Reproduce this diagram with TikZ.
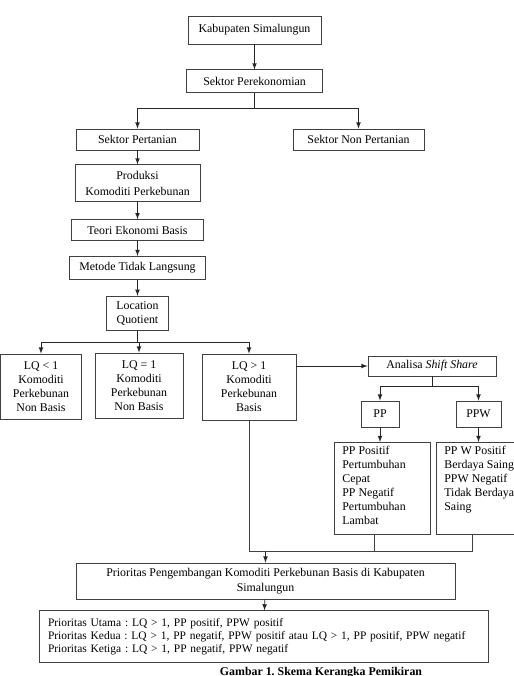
\documentclass[tikz,border=0pt]{standalone}
\usepackage{fontspec}
\setmainfont{Liberation Serif}
\usetikzlibrary{positioning,arrows,calc}
\newdimen\pxl \pxl=0.75pt
\newcommand{\isikotak}[2]{\parbox[t][84\pxl][t]{#1}{\raggedright #2}}
\frenchspacing

\begin{document}
\begin{tikzpicture}[
		x=0.75pt, y=-0.75pt,
		node distance=15\pxl and 0cm,
		font=\fontsize{8.9}{10.5}\selectfont,
		kotak/.style={draw=black!75,line width=0.6pt,align=center,inner sep=2pt},
		rincian/.style={kotak,anchor=north west,inner xsep=8\pxl,inner ysep=4\pxl},
		panah/.style={-latex,draw=black!85,line width=0.6pt},
		garis/.style={draw=black!75,line width=0.6pt}
		]
		\clip (0,0) rectangle (514,676);
		\node[kotak,minimum width=133\pxl,minimum height=28\pxl] (kab) at (254.5,30) {Kabupaten Simalungun};
		\node[kotak,minimum width=136\pxl,minimum height=23\pxl,below=25\pxl of kab] (sektor) {Sektor Perekonomian};
		\node[kotak,minimum width=123\pxl,minimum height=21\pxl] (pertanian) at (137.5,139.5) {Sektor Pertanian};
		\node[kotak,minimum width=131\pxl,minimum height=21\pxl] (nonpertanian) at (358.5,139.5) {Sektor Non Pertanian};
		\node[kotak,minimum width=125\pxl,minimum height=37\pxl,below=14\pxl of pertanian] (produksi) {Produksi\\[1.5pt]Komoditi Perkebunan};
		\node[kotak,minimum width=132\pxl,minimum height=21\pxl,below=17\pxl of produksi] (teori) {Teori Ekonomi Basis};
		\node[kotak,minimum width=136\pxl,minimum height=23\pxl,below=15\pxl of teori] (metode) {Metode Tidak Langsung};
		\node[kotak,minimum width=62\pxl,minimum height=34\pxl,below=16\pxl of metode] (lq) {Location\\Quotient};
		% hasil LQ
		\node[kotak,minimum width=81\pxl,minimum height=65\pxl] (lqkecil) at (41,386.5) {LQ < 1\\Komoditi\\Perkebunan\\Non Basis};
		\node[kotak,minimum width=88\pxl,minimum height=65\pxl] (lqsama) at (139,385.5) {LQ = 1\\Komoditi\\Perkebunan\\Non Basis};
		\node[kotak,minimum width=94\pxl,minimum height=66\pxl] (lqbesar) at (249,387) {LQ > 1\\Komoditi\\Perkebunan\\Basis};
		% shift share
		\node[kotak,minimum width=128\pxl,minimum height=20\pxl] (analisa) at (432,366) {Analisa \textit{Shift Share}};
		\node[kotak,minimum width=38\pxl,minimum height=26\pxl] (pp) at (380,414) {PP};
		\node[kotak,minimum width=45\pxl,minimum height=26\pxl] (ppw) at (478.5,414) {PPW};
		\node[rincian] (ppdetail) at (334,442) {\isikotak{80\pxl}{PP Positif\\Pertumbuhan\\Cepat\\PP Negatif\\Pertumbuhan\\Lambat}};
		\node[rincian] (ppwdetail) at (436,442) {\isikotak{92\pxl}{PP W Positif\\Berdaya Saing\\PPW Negatif\\Tidak Berdaya\\Saing}};
		% prioritas
		\node[kotak,minimum width=379\pxl,minimum height=36\pxl] (prioritas) at (265.5,581) {Prioritas Pengembangan Komoditi Perkebunan Basis di Kabupaten\\[1pt]Simalungun};
		\node[kotak,align=left,text width=431\pxl,inner xsep=9\pxl,minimum height=52\pxl,below=11\pxl of prioritas,xshift=-2\pxl,font=\fontsize{8.6}{9.75}\selectfont] (daftar)
		{Prioritas Utama : LQ > 1, PP positif, PPW positif\\
			Prioritas Kedua : LQ > 1, PP negatif, PPW positif atau LQ > 1, PP positif, PPW negatif\\
			Prioritas Ketiga : LQ > 1, PP negatif, PPW negatif};
		\node[font=\fontsize{8.9}{10.5}\selectfont\bfseries,anchor=base] (judul) at (321,675) {Gambar 1. Skema Kerangka Pemikiran};
		% garis penghubung
		\coordinate (gabung) at ($(prioritas.north)+(0,-11)$);
		\coordinate (ppkaki) at ($(ppdetail.south west)+(40,0)$);
		\coordinate (ppwkaki) at ($(ppwdetail.south west)+(36,0)$);
		\draw[panah] (kab) -- (sektor);
		\draw[panah] (sektor.south) -- ++(0,15) -| (pertanian.north);
		\draw[panah] (sektor.south) -- ++(0,15) -| (nonpertanian.north);
		\draw[panah] (pertanian) -- (produksi);
		\draw[panah] (produksi) -- (teori);
		\draw[panah] (teori) -- (metode);
		\draw[panah] (metode) -- (lq);
		\draw[panah] (lq.south) -- ++(0,12) -| (lqkecil.north);
		\draw[panah] (lq.south) -- ++(0,12) -| (lqsama.north);
		\draw[panah] (lq.south) -- ++(0,12) -| (lqbesar.north);
		\draw[panah] (lqbesar.east |- analisa.west) -- (analisa.west);
		\draw[panah] (analisa.south) -- ++(0,10) -| (pp.north);
		\draw[panah] (analisa.south) -- ++(0,10) -| (ppw.north);
		\draw[panah] (pp) -- (pp.south |- ppdetail.north);
		\draw[panah] (ppw) -- (ppw.south |- ppwdetail.north);
		\draw[garis] (lqbesar.south) |- (gabung -| ppwkaki) -- (ppwkaki);
		\draw[garis] (ppkaki) -- (ppkaki |- gabung);
		\draw[panah] (gabung) -- (prioritas.north);
		\draw[panah] (prioritas) -- (daftar);
	\end{tikzpicture}
\end{document}
